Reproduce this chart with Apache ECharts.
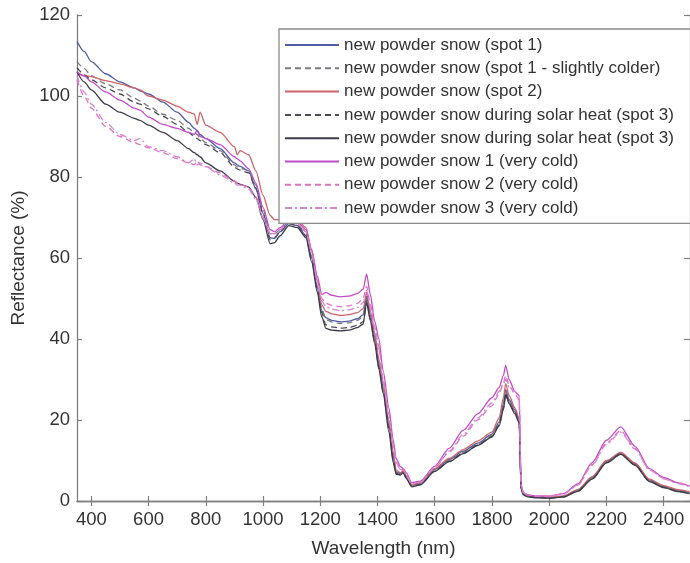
<!DOCTYPE html>
<html>
<head>
<meta charset="utf-8">
<script src="https://cdn.jsdelivr.net/npm/echarts@6/dist/echarts.min.js"></script>
<style>
html,body{margin:0;padding:0;background:#fff;}
#chart{width:690px;height:563px;}
</style>
</head>
<body>
<div id="chart"></div>
<script>
// Wavelength samples (nm)
var wavelength = [
  350,375,400,450,500,550,570,600,650,700,
  740,760,770,780,800,850,900,910,920,950,
  975,1000,1025,1040,1060,1090,1120,1150,1170,1190,
  1205,1220,1240,1270,1300,1330,1350,1362,1375,1390,
  1405,1420,1440,1455,1465,1480,1490,1500,1520,1550,
  1600,1650,1700,1750,1800,1825,1840,1848,1860,1880,
  1895,1902,1910,1925,1950,2000,2050,2100,2150,2200,
  2250,2300,2350,2400,2450,2490
];

var spot1 = [
  113.5,111,108.5,105.5,103.5,102,101.3,100.5,98.5,96,
  93.5,92,91.5,90.5,89.5,87,83.5,83,82.6,81.5,
  77,71,65,64.8,66.5,68.5,68,65.5,60,52.5,
  47,45.2,44.6,44.2,44.4,45,46,50.5,46,40.5,
  34,28,19,11,7.2,6.8,7.3,6,3.9,4.4,
  7.8,10.2,12.3,14.3,16.5,19.5,24,27.5,25,22.5,
  20,3,1.8,1.3,1,0.8,1.2,2.7,5.8,9.8,
  11.9,9.2,5.2,3.6,2.6,2.1
];
var spot1Colder = [
  108.5,106.8,105,103,101.5,99.5,98.8,97.5,95.5,94,
  92,91,90.5,89.5,88.5,86.5,83,82.5,82.2,81.5,
  78,72,66,66,67,69,68.5,66,60.5,53,
  47.5,44.8,44.2,43.8,44,44.6,45.5,50,45.5,40,
  33.5,27.5,18.5,10.8,7,6.6,7.2,5.9,3.8,4.3,
  7.6,10,12,14,16.2,19.2,23.5,27,24.5,22,
  19.8,3,1.7,1.2,0.9,0.8,1.1,2.6,5.6,9.6,
  11.7,9,5,3.5,2.5,2
];
var spot2 = [
  105.5,105,104.8,103.8,103,102,101.5,100,99,97.5,
  96,95.5,93,96,92.8,91,87.5,85.5,86.5,85.5,
  81.5,75.5,70.5,69.5,69.5,70,69.5,67.5,62,54.5,
  48.5,46.8,46.2,45.8,46,46.5,47.5,51.5,47,41.5,
  35,29,20,12,7.6,7,7.5,6.2,4,4.6,
  8,10.5,12.7,14.8,17,20.5,25.5,29,26,23,
  20.5,3.2,1.9,1.4,1.1,0.9,1.2,2.8,6,10,
  12,9.4,5.4,3.8,2.8,2.3
];
var solarDashed = [
  107,105.3,104,102,100.5,98.5,98,96.8,95,93,
  91,90,89.5,89,88,86,82.5,82,81.7,81,
  77.3,71,64.5,65,66.5,68.5,68,65.5,59.5,52,
  46.5,43.5,43,42.7,42.8,43.4,44.3,49.5,45,39.5,
  33,27,18,10.2,6.8,6.5,7.1,5.8,3.6,4.1,
  7.4,9.8,11.8,13.8,15.9,18.8,23,26.5,24.2,21.8,
  19.5,2.9,1.6,1.1,0.9,0.7,1,2.5,5.5,9.5,
  11.6,8.9,4.9,3.4,2.4,1.9
];
var solarSolid = [
  106,103.5,101.5,98,96,94.5,94,92.8,91,89,
  87,86,85.5,85,83.5,81.5,79,78.5,78.2,77.5,
  75,69.5,63.5,63.8,65.5,68,67.5,65,59,51.5,
  45.5,42.6,42.2,42,42.2,42.8,43.7,49,44.5,39,
  32.5,26.5,17,9.5,6.6,6.4,7,5.6,3.5,4,
  7.3,9.7,11.7,13.7,15.8,18.5,22.5,26.3,24,21.5,
  19.3,2.8,1.5,1,0.8,0.7,1,2.4,5.4,9.4,
  11.5,8.8,4.8,3.3,2.3,1.8
];
var cold1 = [
  106,105,103.5,101,99,97,96.5,94.8,93,92,
  91,90.5,91.5,90,89.5,88,85,84.5,84,82,
  78.5,72.5,67,66.5,67.5,69.5,69,67,62,55.5,
  51,51.5,50.8,50.4,50.6,51.2,52.3,56,51,44.5,
  40,32,23,15,10.5,8.5,8,7,4.5,4.9,
  8.6,13,17.5,21.5,25.5,28,31,33.5,30,27,
  26,4,2,1.5,1.3,1.2,1.8,4.2,9.5,15,
  18.3,13.5,8,5.8,4.5,3.7
];
var cold2 = [
  104,100,97,92.5,90,88.5,88,87.2,86,84.5,
  83.5,83,84,83,82.6,81,79,78.5,78.2,77.5,
  75,70,66,66,67,69,68.5,66.5,61.5,54.5,
  50,48.8,48.3,48,48.2,48.8,50,53,48.5,43,
  38,30,21.5,14,9.5,8,7.8,6.7,4.3,4.7,
  8.2,12,16,20,23.5,26.5,29,31,28.5,26.5,
  25,3.8,2,1.5,1.3,1.2,1.7,4,9,14.3,
  17.4,13,7.8,5.6,4.4,3.6
];
var cold3 = [
  105,101,98,93.5,90.5,89,89.5,87.5,86.5,85,
  83.5,84.5,83,83.5,82.5,80.5,78.5,78,78,77,
  74.5,70,66,66,67,69,68.5,66.5,61.5,54,
  49.5,48,47.4,47,47.2,47.8,49,52,47.8,42.5,
  37.5,29.5,21,13.5,9.2,7.8,7.6,6.5,4.2,4.6,
  8.3,12.3,16.5,20.5,24.2,27,29,30,28,27,
  26,3.8,2,1.5,1.3,1.2,1.7,3.9,8.8,14,
  17,12.8,7.7,5.5,4.3,3.5
];

var xTicks = [400,600,800,1000,1200,1400,1600,1800,2000,2200,2400];

var seriesDefs = [
  {name:'new powder snow (spot 1)', values:spot1, color:'#4f5ea6', type:'solid'},
  {name:'new powder snow (spot 1 - slightly colder)', values:spot1Colder, color:'#7a7a80', type:[6,4]},
  {name:'new powder snow (spot 2)', values:spot2, color:'#cc6468', type:'solid'},
  {name:'new powder snow during solar heat (spot 3)', values:solarDashed, color:'#4a4a55', type:[6,4]},
  {name:'new powder snow during solar heat (spot 3) ', values:solarSolid, color:'#3c3c4a', type:'solid'},
  {name:'new powder snow 1 (very cold)', values:cold1, color:'#c04cc8', type:'solid'},
  {name:'new powder snow 2 (very cold)', values:cold2, color:'#e070c4', type:[6,4]},
  {name:'new powder snow 3 (very cold)', values:cold3, color:'#d684d4', type:[7,3,2,3]}
];

var series = seriesDefs.map(function(d){
  return {
    name: d.name,
    type: 'line',
    data: wavelength.map(function(w,i){ return [w, d.values[i]]; }),
    showSymbol: false,
    symbol: 'none',
    smooth: 0.25,
    smoothMonotone: 'x',
    lineStyle: {color: d.color, width: 1.3, type: d.type},
    itemStyle: {color: d.color},
    z: 2
  };
});

var axisColor = '#808080';
var fam = 'Liberation Sans, Arial, sans-serif';
var chart = echarts.init(document.getElementById('chart'), null, {renderer:'canvas'});
chart.setOption({
  animation: false,
  backgroundColor: '#ffffff',
  grid: {left: 77, top: 15, width: 616, bottom: 61, containLabel: false},
  legend: {
    orient: 'vertical',
    left: 279,
    top: 29,
    padding: [7.5, 12, 6.8, 5],
    itemWidth: 54,
    itemHeight: 17,
    itemGap: 6.3,
    backgroundColor: '#ffffff',
    borderColor: '#8a8a8a',
    borderWidth: 1.3,
    itemStyle: {opacity: 0, borderWidth: 0},
    textStyle: {fontFamily: fam, fontSize: 17, color: '#333333', lineHeight: 17},
    data: seriesDefs.map(function(d){ return d.name; })
  },
  xAxis: [
    {
      type: 'value', min: 350, max: 2492, position: 'bottom',
      name: 'Wavelength (nm)', nameLocation: 'middle', nameGap: 38,
      nameTextStyle: {fontFamily: fam, fontSize: 19, color: '#333'},
      axisLine: {show: true, lineStyle: {color: axisColor, width: 1.3}},
      axisTick: {show: true, inside: true, length: 5, customValues: xTicks, lineStyle: {color: axisColor, width: 1.2}},
      axisLabel: {customValues: xTicks, formatter: function(v){ return String(v); }, fontFamily: fam, fontSize: 18.5, color: '#333', margin: 9},
      splitLine: {show: false}
    },
    {
      type: 'value', min: 350, max: 2492, position: 'top',
      axisLine: {show: true, lineStyle: {color: axisColor, width: 1.3}},
      axisTick: {show: true, inside: true, length: 5, customValues: xTicks, lineStyle: {color: axisColor, width: 1.2}},
      axisLabel: {show: false},
      splitLine: {show: false}
    }
  ],
  yAxis: [
    {
      type: 'value', min: 0, max: 120, interval: 20, position: 'left',
      name: 'Reflectance (%)', nameLocation: 'middle', nameGap: 49, nameRotate: 90,
      nameTextStyle: {fontFamily: fam, fontSize: 19, color: '#333'},
      axisLine: {show: true, lineStyle: {color: axisColor, width: 1.3}},
      axisTick: {show: true, inside: true, length: 5, lineStyle: {color: axisColor, width: 1.2}},
      axisLabel: {fontFamily: fam, fontSize: 18.5, color: '#333', margin: 7},
      splitLine: {show: false}
    },
    {
      type: 'value', min: 0, max: 120, interval: 20, position: 'right',
      axisLine: {show: true, lineStyle: {color: axisColor, width: 1.3}},
      axisTick: {show: true, inside: true, length: 6, lineStyle: {color: axisColor, width: 1.2}},
      axisLabel: {show: false},
      splitLine: {show: false}
    }
  ],
  series: series
});
</script>
</body>
</html>
